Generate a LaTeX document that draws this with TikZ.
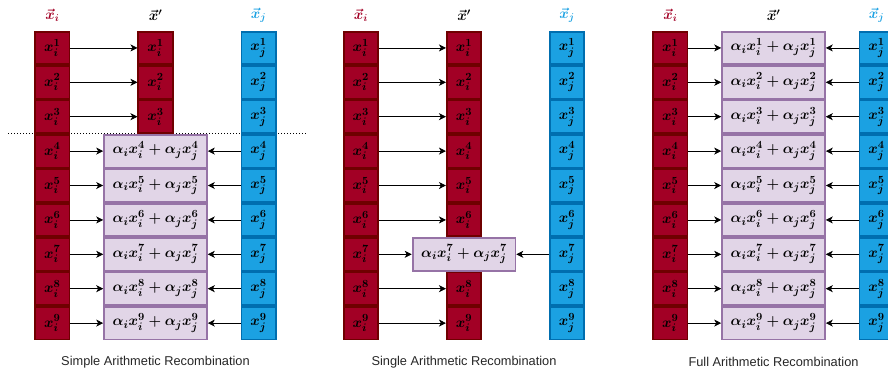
\documentclass[tikz,border=0pt]{standalone}
\usepackage{fontspec}
\setsansfont{Liberation Sans}
\usetikzlibrary{arrows.meta}

\definecolor{REDfill}{HTML}{A20025}
\definecolor{REDline}{HTML}{6F0000}
\definecolor{BLUEfill}{HTML}{1BA1E2}
\definecolor{BLUEline}{HTML}{006EAF}
\definecolor{MIXfill}{HTML}{E1D5E7}
\definecolor{MIXline}{HTML}{9673A6}

\tikzset{
   cell/.style={draw, line width=1.8pt, minimum width=34.3pt, minimum height=32.6pt,
      inner sep=0pt, font=\fontsize{15}{17}\selectfont\boldmath},
   icell/.style={cell, fill=REDfill, draw=REDline},
   jcell/.style={cell, fill=BLUEfill, draw=BLUEline},
   mixcell/.style={cell, fill=MIXfill, draw=MIXline, minimum width=102.8pt},
   link/.style={-{Stealth[length=7pt,width=7pt,inset=2pt]}, line width=0.7pt},
   head/.style={font=\fontsize{14}{16}\selectfont\boldmath},
   caption/.style={font=\sffamily\fontsize{12.8}{15}\selectfont, text=black!85}
}

\begin{document}
\begin{tikzpicture}[x=1pt, y=-1pt]
   \clip (0,0) rectangle (888,376);
   % Cut line between kept and mixed genes
   \draw[line width=1pt, dotted] (8,133.9) -- (307,133.9);
   \foreach \p/\ox/\lo/\hi/\kind in {1/0/4/9/Simple, 2/308.5/7/7/Single, 3/618/1/9/Full} {
      % Column headers
      \node[head, REDfill] (hi-\p) at (52.3+\ox,15) {$\vec{x}_i$};
      \node[head] (hn-\p) at (155.5+\ox,15) {$\vec{x}'$};
      \node[head, BLUEfill] (hj-\p) at (258.6+\ox,15) {$\vec{x}_j$};
      \node[caption] (cap-\p) at (155.5+\ox,362) {\kind{} Arithmetic Recombination};
      \foreach \k in {1,...,9} {
         \pgfmathtruncatemacro\mixed{and(\k>=\lo,\k<=\hi)}
         \node[icell] (xi-\p-\k) at (52.3+\ox,13.5+34.4*\k) {$x_i^{\k}$};
         \node[jcell] (xj-\p-\k) at (258.6+\ox,13.5+34.4*\k) {$x_j^{\k}$};
         \ifnum\mixed=1
            \node[mixcell] (xn-\p-\k) at (155.5+\ox,13.5+34.4*\k)
               {$\alpha_i x_i^{\k} + \alpha_j x_j^{\k}$};
            \draw[link] (xi-\p-\k) -- (xn-\p-\k);
            \draw[link] (xj-\p-\k) -- (xn-\p-\k);
         \else
            \node[icell] (xn-\p-\k) at (155.5+\ox,13.5+34.4*\k) {$x_i^{\k}$};
            \draw[link] (xi-\p-\k) -- (xn-\p-\k);
         \fi
      }
   }
\end{tikzpicture}
\end{document}
